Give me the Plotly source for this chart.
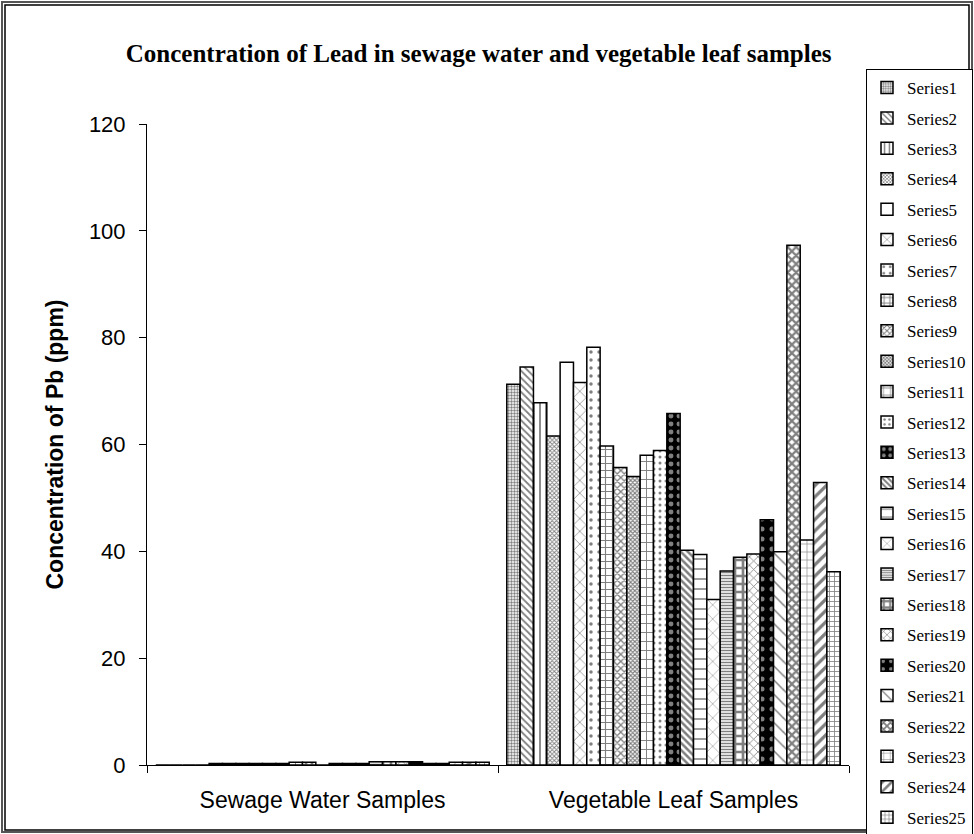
import plotly.graph_objects as go

categories = ["Sewage Water Samples", "Vegetable Leaf Samples"]
series_names = ["Series%d" % i for i in range(1, 26)]

sewage_values = [0, 0, 0, 0, 0.3, 0.3, 0.3, 0.3, 0.3, 0.3, 0.5, 0.5, 0,
                 0.3, 0.3, 0.3, 0.6, 0.6, 0.6, 0.6, 0.3, 0.3, 0.5, 0.5, 0.5]
vegetable_values = [71.3, 74.5, 67.8, 61.6, 75.4, 71.6, 78.2, 59.7, 55.7, 54.0,
                    58.0, 58.9, 65.8, 40.2, 39.4, 31.0, 36.3, 38.9, 39.5, 45.9,
                    39.9, 97.3, 42.1, 52.9, 36.2]

y_ticks = [0, 20, 40, 60, 80, 100, 120]

# pattern styles (shape, fg, bg, size, solidity)
styles = [
    (".", "black", "white", 3, 0.5),
    ("\\", "black", "white", 5, 0.35),
    ("|", "black", "white", 6, 0.3),
    ("x", "black", "white", 3, 0.5),
    ("", "black", "white", 8, 0.2),
    ("x", "black", "white", 9, 0.15),
    (".", "black", "white", 8, 0.15),
    ("+", "black", "white", 7, 0.3),
    ("x", "black", "white", 5, 0.45),
    ("x", "black", "white", 3, 0.6),
    ("+", "black", "white", 9, 0.2),
    (".", "black", "white", 6, 0.2),
    (".", "white", "black", 8, 0.3),
    ("\\", "black", "white", 5, 0.5),
    ("-", "black", "white", 10, 0.15),
    ("x", "black", "white", 10, 0.1),
    ("-", "black", "white", 3, 0.5),
    ("+", "black", "white", 8, 0.55),
    ("x", "black", "white", 6, 0.25),
    (".", "white", "black", 10, 0.2),
    ("\\", "black", "white", 10, 0.15),
    ("x", "black", "white", 6, 0.6),
    ("+", "black", "white", 8, 0.15),
    ("/", "black", "white", 8, 0.4),
    ("+", "black", "white", 5, 0.3),
]

fig = go.Figure()
for i, name in enumerate(series_names):
    shape, fg, bg, size, sol = styles[i]
    fig.add_trace(go.Bar(
        name=name,
        x=categories,
        y=[sewage_values[i], vegetable_values[i]],
        legendgroup=name,
        marker=dict(
            color=bg,
            line=dict(color="black", width=1.5),
            pattern=dict(shape=shape, fgcolor=fg, bgcolor=bg, size=size,
                         solidity=sol, fillmode="overlay"),
        ),
    ))

L, T, W, H = 147, 124, 702, 641
FW, FH = 974, 834

def px(x):
    return (x - L) / W

def py(y):
    return (T + H - y) / H

fig.update_layout(
    width=FW, height=FH,
    margin=dict(l=L, r=FW - L - W, t=T, b=FH - T - H, autoexpand=False),
    paper_bgcolor="white", plot_bgcolor="white",
    barmode="group", bargap=0.05, bargroupgap=0,
    showlegend=True,
    title=dict(
        text="Concentration of Lead in sewage water and vegetable leaf samples",
        x=px(492), xanchor="center", y=1 - 53 / FH, yanchor="middle",
        font=dict(family="Liberation Serif", size=25, color="black", weight="bold"),
    ),
    legend=dict(
        x=px(866), y=py(69), xanchor="left", yanchor="top",
        bordercolor="black", borderwidth=1, bgcolor="white",
        font=dict(family="Liberation Serif", size=17, color="black"),
        tracegroupgap=5.3, itemwidth=30, maxheight=820,
    ),
    font=dict(family="Liberation Sans", color="black"),
)

fig.update_xaxes(
    type="category", tickson="boundaries", ticks="outside", ticklen=7,
    tickcolor="black", showline=True, linecolor="black", linewidth=1,
    tickfont=dict(family="Liberation Sans", size=23, color="black"),
    ticklabelstandoff=14,
    showgrid=False,
)
fig.update_yaxes(
    range=[0, 120], tickvals=y_ticks, ticks="outside", ticklen=7,
    tickcolor="black", showline=True, linecolor="black", linewidth=1,
    tickfont=dict(family="Liberation Sans", size=22, color="black"),
    ticklabelstandoff=9,
    showgrid=False, zeroline=False,
    title=dict(text="<b>Concentration of Pb (ppm)</b>",
               font=dict(family="Liberation Sans", size=23, color="black"),
               standoff=18),
)

# double outer frame
fig.add_shape(type="rect", xref="paper", yref="paper",
              x0=px(2), x1=px(972), y0=py(832), y1=py(2),
              line=dict(color="#555555", width=2), layer="above")
fig.add_shape(type="rect", xref="paper", yref="paper",
              x0=px(5), x1=px(969), y0=py(830), y1=py(5),
              line=dict(color="black", width=1.5), layer="above")

fig.write_html(
    "out.html",
    config={"displayModeBar": False},
    post_script="document.body.style.margin='0';document.body.style.overflow='hidden';",
)
